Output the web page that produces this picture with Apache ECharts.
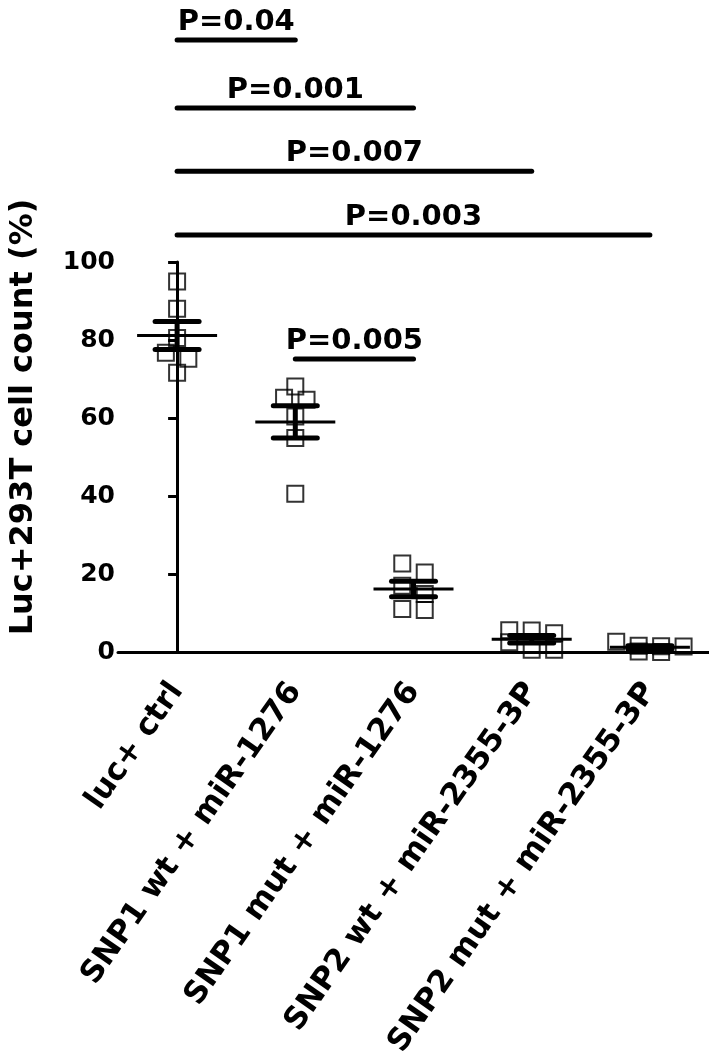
<!DOCTYPE html>
<html>
<head>
<meta charset="utf-8">
<script src="https://cdn.jsdelivr.net/npm/echarts@6/dist/echarts.min.js"></script>
<style>
html,body{margin:0;padding:0;background:#fff;}
#chart{width:709px;height:1054px;}
</style>
</head>
<body>
<div id="chart"></div>
<script>
// ---- data ----
const categories = ['luc+ ctrl', 'SNP1 wt + miR-1276', 'SNP1 mut + miR-1276', 'SNP2 wt + miR-2355-3P', 'SNP2 mut + miR-2355-3P'];
const lucCtrl = [95, 88, 80.5, 76.7, 75.2, 71.6];
const snp1Wt = [68.1, 65.2, 64.7, 60.4, 54.9, 40.6];
const snp1Mut = [22.7, 20.4, 17.0, 14.9, 11.0, 10.8];
const snp2Wt = [5.6, 5.5, 4.8, 2.5, 0.6, 0.6];
const snp2Mut = [2.6, 1.6, 1.5, 1.4, 0.1, 0.0];
const yTicks = [0, 20, 40, 60, 80, 100];
const comparisons = [[0, 1], [0, 2], [0, 3], [0, 4], [1, 2]];
const pLabels = ['P=0.04', 'P=0.001', 'P=0.007', 'P=0.003', 'P=0.005'];
const pLevels = [156.9, 139.5, 123.3, 106.9, 75.1];
const yTitle = 'Luc+293T cell count (%)';

// ---- layout helpers ----
const groups = [lucCtrl, snp1Wt, snp1Mut, snp2Wt, snp2Mut];
const ROW_GAP = 2.4;    // values closer than this to a row's top value share that row
const SLOT = 0.19;      // horizontal spacing of points in a row (category units)
function rowOffsets(values) {
  const idx = values.map((v, i) => i).sort((a, b) => values[b] - values[a]);
  const off = new Array(values.length).fill(0);
  let k = 0;
  while (k < idx.length) {
    const start = values[idx[k]];
    const row = [idx[k]]; k++;
    while (k < idx.length && start - values[idx[k]] < ROW_GAP) { row.push(idx[k]); k++; }
    row.forEach((id, j) => { off[id] = (j - (row.length - 1) / 2) * SLOT; });
  }
  return off;
}
const scatterData = [];
const statData = [];
groups.forEach((vals, g) => {
  const off = rowOffsets(vals);
  vals.forEach((v, i) => scatterData.push([g + off[i], v]));
  const n = vals.length;
  const mean = vals.reduce((a, b) => a + b, 0) / n;
  const sd = Math.sqrt(vals.reduce((a, b) => a + (b - mean) * (b - mean), 0) / (n - 1));
  statData.push([g, mean, sd / Math.sqrt(n)]);
});
const annData = comparisons.map((c, i) => [c[0], c[1], pLevels[i], pLabels[i]]);

const FONT = 'DejaVu Sans';
const chart = echarts.init(document.getElementById('chart'), null, {renderer: 'canvas'});
chart.setOption({
  backgroundColor: '#fff',
  animation: false,
  grid: {left: 118, right: 0, top: 262, bottom: 402, containLabel: false, outerBoundsMode: 'none'},
  xAxis: [{
    type: 'category',
    data: categories,
    boundaryGap: true,
    axisLine: {lineStyle: {color: '#000', width: 3}},
    axisTick: {alignWithLabel: true, length: 10, lineStyle: {color: '#000', width: 3}},
    axisLabel: {interval: 0, rotate: 55, margin: 34, color: '#000', fontFamily: FONT, fontWeight: 'bold', fontSize: 31},
    splitLine: {show: false}
  }, {
    type: 'value', min: -0.5, max: 4.5, show: false
  }],
  yAxis: {
    type: 'value', min: yTicks[0], max: yTicks[yTicks.length - 1], interval: 20,
    axisLine: {show: true, lineStyle: {color: '#000', width: 3}},
    axisTick: {show: true, length: 9, lineStyle: {color: '#000', width: 3}},
    axisLabel: {margin: 3, color: '#000', fontFamily: FONT, fontWeight: 'bold', fontSize: 25},
    splitLine: {show: false}
  },
  graphic: [{
    type: 'text', x: 24, y: 417, rotation: Math.PI / 2,
    style: {text: yTitle, fill: '#000', font: 'bold 32px "DejaVu Sans"', textAlign: 'center', textVerticalAlign: 'middle'}
  }],
  series: [{
    type: 'scatter', xAxisIndex: 1, data: scatterData,
    symbol: 'rect', symbolSize: 16, clip: false,
    itemStyle: {color: 'rgba(0,0,0,0)', borderColor: '#000', borderWidth: 2},
    z: 3
  }, {
    type: 'custom', xAxisIndex: 1, data: statData, clip: false, z: 4,
    renderItem: function (params, api) {
      const g = api.value(0), m = api.value(1), s = api.value(2);
      const c = api.coord([g, m]);
      const t = api.coord([g, m + s]);
      const b = api.coord([g, m - s]);
      const st = {stroke: '#000', lineWidth: 3};
      const cap = {stroke: '#000', lineWidth: 5, lineCap: 'round'};
      return {type: 'group', children: [
        {type: 'line', shape: {x1: c[0] - 40, y1: c[1], x2: c[0] + 40, y2: c[1]}, style: st},
        {type: 'line', shape: {x1: t[0], y1: t[1], x2: b[0], y2: b[1]}, style: {stroke: '#000', lineWidth: 5}},
        {type: 'line', shape: {x1: t[0] - 22, y1: t[1], x2: t[0] + 22, y2: t[1]}, style: cap},
        {type: 'line', shape: {x1: b[0] - 22, y1: b[1], x2: b[0] + 22, y2: b[1]}, style: cap}
      ]};
    }
  }, {
    type: 'custom', xAxisIndex: 1, data: annData, clip: false, z: 5,
    renderItem: function (params, api) {
      const p1 = api.coord([api.value(0), api.value(2)]);
      const p2 = api.coord([api.value(1), api.value(2)]);
      const label = annData[params.dataIndex][3];
      return {type: 'group', children: [
        {type: 'line', shape: {x1: p1[0], y1: p1[1], x2: p2[0], y2: p2[1]}, style: {stroke: '#000', lineWidth: 5, lineCap: 'round'}},
        {type: 'text', x: (p1[0] + p2[0]) / 2, y: p1[1] - 3,
          style: {text: label, fill: '#000', font: 'bold 29px "DejaVu Sans"', textAlign: 'center', textVerticalAlign: 'bottom'}}
      ]};
    }
  }]
});
</script>
</body>
</html>
